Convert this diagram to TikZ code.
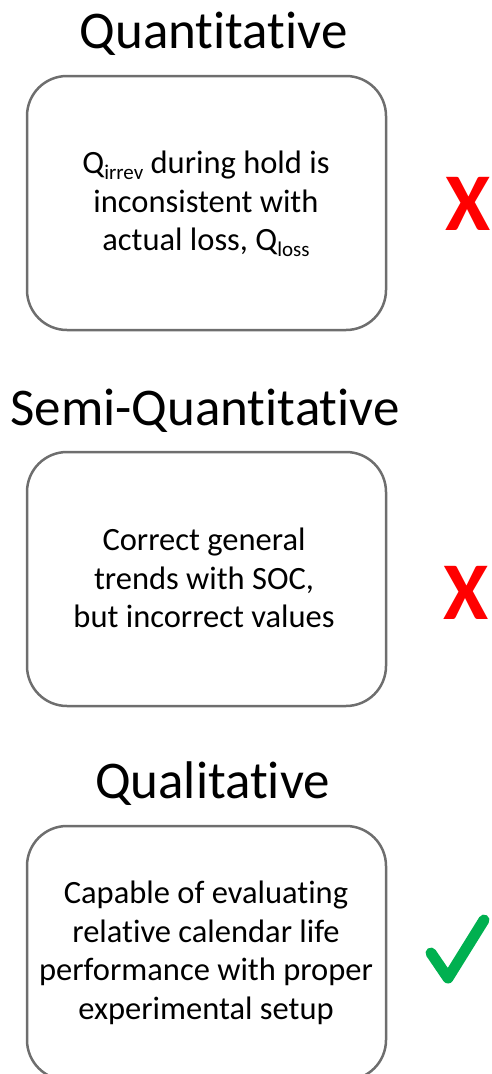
\documentclass[tikz,border=0pt]{standalone}
\usepackage{fontspec}
\setmainfont{Carlito}[Ligatures=NoCommon]
\definecolor{boxgray}{HTML}{6E6E6E}
\definecolor{xred}{HTML}{FF0000}
\definecolor{okgreen}{HTML}{00B050}
\tikzset{
  titletext/.style={font=\fontsize{53}{60}\selectfont, anchor=base, inner sep=0pt},
  panel/.style={draw=boxgray, line width=2.5pt, rounded corners=40pt},
  bodytext/.style={font=\fontsize{32.5}{38.5}\selectfont, align=center, inner sep=0pt},
  crossmark/.style={font=\bfseries\fontsize{82}{82}\selectfont, text=xred, inner sep=0pt},
}
\newcommand{\subtxt}[1]{\raisebox{-6pt}{\fontsize{21}{21}\selectfont #1}}
\begin{document}
\begin{tikzpicture}[x=1pt,y=-1pt]
\useasboundingbox (0,0) rectangle (491,1074);
% titles
\node[titletext] (t1) at (213.5,48) {Quantitative};
\node[titletext] (t2) at (205,425) {Semi-Quantitative};
\node[titletext] (t3) at (212.5,798) {Qualitative};
% boxes
\draw[panel] (27,76) rectangle (386,330);
\draw[panel] (27,452) rectangle (386,706);
\draw[panel] (27,826) rectangle (386,1080);
% texts
\node[bodytext] (b1) at (206,204) {Q\subtxt{irrev} during hold is\\inconsistent with\\actual loss, Q\subtxt{loss}};
\node[bodytext] (b2) at (204,578) {Correct general\\trends with SOC,\\but incorrect values};
\node[bodytext] (b3) at (206,953) {Capable of evaluating\\relative calendar life\\performance with proper\\experimental setup};
% marks
\node[crossmark] (x1) at (468,204) {X};
\node[crossmark] (x2) at (466,593) {X};
\draw[okgreen, line width=11pt, line cap=round, line join=round] (431,953) -- (448,978) -- (484,920);
\end{tikzpicture}
\end{document}
